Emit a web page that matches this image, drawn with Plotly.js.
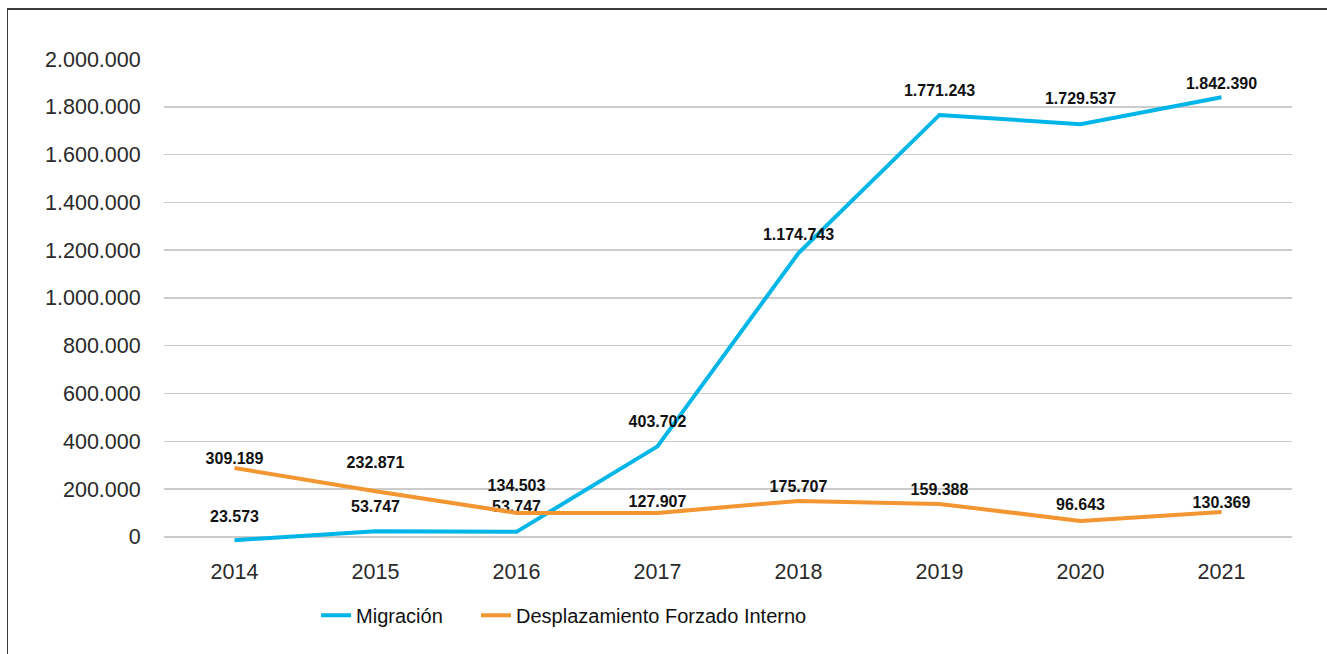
<!DOCTYPE html>
<html>
<head>
<meta charset="utf-8">
<script src="https://cdn.plot.ly/plotly-3.0.1.min.js"></script>
<style>
html,body{margin:0;padding:0;background:#fff;overflow:hidden;}
#frame{position:absolute;left:7px;top:8px;width:1330px;height:700px;border-left:1.5px solid #3a3a3a;border-top:2px solid #3a3a3a;pointer-events:none;z-index:5;}
#chart{width:1327px;height:654px;}
</style>
</head>
<body>
<div id="frame"></div>
<div id="chart"></div>
<script>
var years = ['2014','2015','2016','2017','2018','2019','2020','2021'];
// values as drawn by the lines
var migracion = [-14000, 23400, 21000, 378900, 1187500, 1765900, 1727000, 1839900];
var desplazamiento = [288500, 190700, 100400, 100400, 150500, 138000, 66900, 104500];
// data labels as printed
var migracionLabels = [23573, 53747, 53747, 403702, 1174743, 1771243, 1729537, 1842390];
var desplazamientoLabels = [309189, 232871, 134503, 127907, 175707, 159388, 96643, 130369];

// style: invisible marker sizes used only to set how far each label sits above its point
var migLabelGap = [21, 23, 23, 23, 13, 23, 25, 6];
var despLabelGap = [0, 30, 27, 1, 7, 7, 9, 0];

var labelFont = {family: 'Liberation Sans, Arial, sans-serif', size: 16, color: '#111'};

var traces = [
  {
    x: years, y: migracion, name: 'Migración', type: 'scatter', mode: 'lines+markers+text',
    line: {color: '#00B5E8', width: 4},
    marker: {size: migLabelGap, color: 'rgba(0,0,0,0)', opacity: 0, line: {width: 0, color: 'rgba(0,0,0,0)'}},
    text: migracionLabels, texttemplate: '<b>%{text:,d}</b>', textposition: 'top center',
    textfont: labelFont, hoverinfo: 'x+y', legend: 'legend'
  },
  {
    x: years, y: desplazamiento, name: 'Desplazamiento Forzado Interno', type: 'scatter', mode: 'lines+markers+text',
    line: {color: '#F39530', width: 4},
    marker: {size: despLabelGap, color: 'rgba(0,0,0,0)', opacity: 0, line: {width: 0, color: 'rgba(0,0,0,0)'}},
    text: desplazamientoLabels, texttemplate: '<b>%{text:,d}</b>', textposition: 'top center',
    textfont: labelFont, hoverinfo: 'x+y', legend: 'legend2'
  }
];

var tickFont = {family: 'Liberation Sans, Arial, sans-serif', size: 21.5, color: '#2a2a2a'};
var legendFont = {family: 'Liberation Sans, Arial, sans-serif', size: 20, color: '#111'};

var layout = {
  width: 1327, height: 654,
  separators: ',.',
  paper_bgcolor: '#fff', plot_bgcolor: '#fff',
  margin: {l: 164, r: 35, t: 59, b: 97.6},
  showlegend: true,
  legend: {
    orientation: 'h', x: 0.1348, xanchor: 'left', y: -0.08, yanchor: 'top',
    font: legendFont, itemwidth: 30
  },
  legend2: {
    orientation: 'h', x: 0.2766, xanchor: 'left', y: -0.08, yanchor: 'top',
    font: legendFont, itemwidth: 30
  },
  xaxis: {
    type: 'category', range: [-0.5, 7.5], showgrid: false, zeroline: false, showline: false,
    ticks: '', tickfont: tickFont, fixedrange: true
  },
  yaxis: {
    range: [-80000, 2000000], tickvals: [0,200000,400000,600000,800000,1000000,1200000,1400000,1600000,1800000,2000000],
    tickformat: ',d', showgrid: true, gridcolor: '#cccccc', gridwidth: 1.5,
    zeroline: false, showline: false, ticks: 'outside', ticklen: 18, tickcolor: 'rgba(0,0,0,0)',
    tickfont: tickFont, fixedrange: true
  }
};

Plotly.newPlot('chart', traces, layout, {displayModeBar: false, staticPlot: true});
</script>
</body>
</html>
